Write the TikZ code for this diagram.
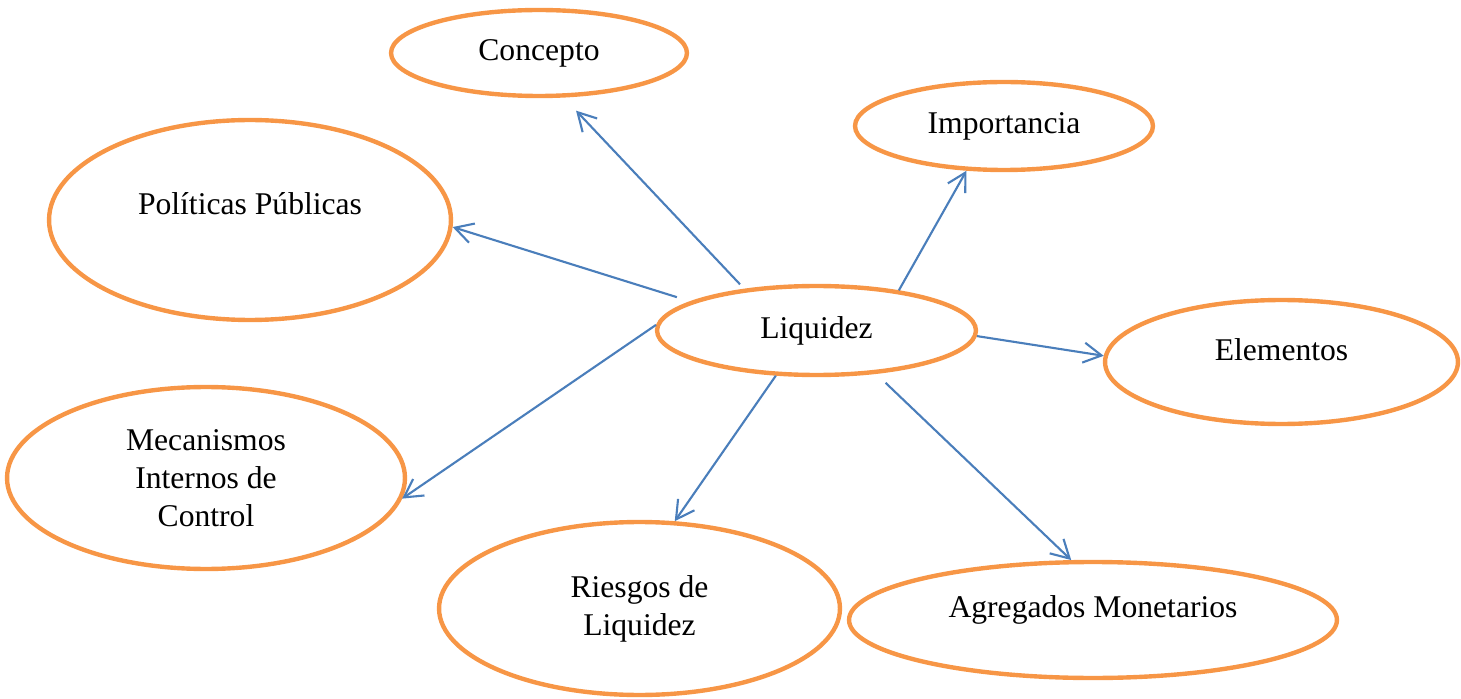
\documentclass[tikz,border=0pt]{standalone}
\usepackage{fontspec}
\setmainfont{Liberation Serif}
\usepackage{tikz}
\usetikzlibrary{shapes.geometric}
\usetikzlibrary{arrows.meta}
\definecolor{bubbleorange}{HTML}{F79646}
\definecolor{linkblue}{HTML}{4A7EBB}
\tikzset{idea/.style={ellipse, draw=bubbleorange, line width=2.5pt, inner sep=0pt, align=center, font=\fontsize{18}{21.6}\selectfont},
link/.style={draw=linkblue, line width=1.2pt, -{Straight Barb[length=0.36cm,width=0.4cm]}}}

\begin{document}
\begin{tikzpicture}[x=0.02cm, y=-0.02cm]
\useasboundingbox (0,0) rectangle (1461,699);
% centre
\node (liquidez) at (816.5,330.5) [idea, minimum width=6.38cm, minimum height=1.78cm] {Liquidez};
% surrounding topics
\node (concepto) at (539,53) [idea, minimum width=5.92cm, minimum height=1.72cm] {Concepto};
\node (importancia) at (1004,126) [idea, minimum width=5.96cm, minimum height=1.76cm] {Importancia};
\node (politicas) at (250,220) [idea, minimum width=8.04cm, minimum height=4cm] {\raisebox{0.32cm}[\height][\depth]{Políticas Públicas}};
\node (elementos) at (1281.5,362) [idea, minimum width=7.06cm, minimum height=2.48cm] {\raisebox{0.24cm}[\height][\depth]{Elementos}};
\node (mecanismos) at (206,478) [idea, minimum width=7.96cm, minimum height=3.64cm] {Mecanismos\\ Internos de\\ Control};
\node (riesgos) at (639.5,608.5) [idea, minimum width=8.02cm, minimum height=3.46cm] {Riesgos de\\ Liquidez};
\node (agregados) at (1093,620) [idea, minimum width=9.76cm, minimum height=2.32cm] {\raisebox{0.2cm}[\height][\depth]{Agregados Monetarios}};
% arrows
\draw [link, shorten <=0.12cm, shorten >=0.36cm] (liquidez.150) -- (concepto.299);
\draw [link] (liquidez.26) -- (importancia.230);
\draw [link, shorten <=0.28cm] (liquidez.167) -- (politicas.358);
\draw [link] (liquidez.358) -- (elementos.178);
\draw [link] (liquidez.178) -- (mecanismos.354);
\draw [link] (liquidez.228) -- (riesgos.68);
\draw [link, shorten <=0.26cm] (liquidez.324) -- (agregados.110);
\end{tikzpicture}
\end{document}
